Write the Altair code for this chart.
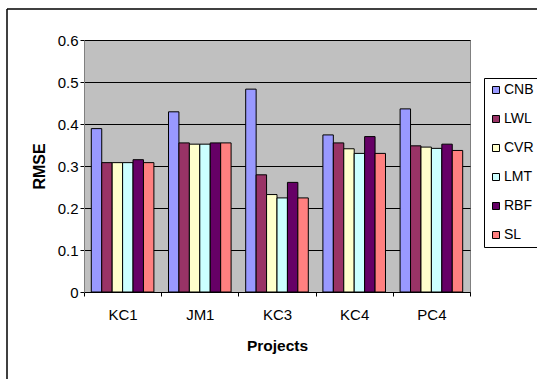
import altair as alt
import pandas as pd

# RMSE per project for each learner
projects = ["KC1", "JM1", "KC3", "KC4", "PC4"]
methods = ["CNB", "LWL", "CVR", "LMT", "RBF", "SL"]
cnb = [0.389, 0.429, 0.483, 0.374, 0.436]
lwl = [0.308, 0.355, 0.279, 0.355, 0.348]
cvr = [0.308, 0.352, 0.232, 0.341, 0.345]
lmt = [0.308, 0.352, 0.224, 0.330, 0.342]
rbf = [0.315, 0.355, 0.261, 0.370, 0.352]
sl = [0.308, 0.355, 0.224, 0.330, 0.337]
colors = ["#9999FF", "#993366", "#FFFFCC", "#CCFFFF", "#660066", "#FF8080"]
y_ticks = [0, 0.1, 0.2, 0.3, 0.4, 0.5, 0.6]

series = dict(zip(methods, [cnb, lwl, cvr, lmt, rbf, sl]))
rows = [
    {"Project": p, "Method": m, "RMSE": vals[i]}
    for m, vals in series.items()
    for i, p in enumerate(projects)
]
df = pd.DataFrame(rows)

FONT = "Liberation Sans"

bars = alt.Chart(df).mark_bar(stroke="black", strokeWidth=1).encode(
    x=alt.X(
        "Project:N",
        sort=projects,
        # full-width bands so the category ticks fall midway between groups
        scale=alt.Scale(paddingInner=0, paddingOuter=0),
        axis=alt.Axis(
            title="Projects",
            labelAngle=0,
            labelFontSize=15,
            labelPadding=11,
            tickSize=4,
            tickBand="extent",
            tickColor="black",
            domainColor="black",
            titleFontSize=15.5,
            titleFontWeight="bold",
            titlePadding=16,
            grid=False,
        ),
    ),
    # gap between groups comes from the outer padding of the offset scale
    xOffset=alt.XOffset("Method:N", sort=methods, scale=alt.Scale(paddingInner=0, paddingOuter=0.7)),
    y=alt.Y(
        "RMSE:Q",
        scale=alt.Scale(domain=[0, 0.6], nice=False),
        axis=alt.Axis(
            title="RMSE",
            values=y_ticks,
            format=".1~f",
            labelFontSize=15,
            labelPadding=2,
            tickSize=4,
            tickColor="black",
            domainColor="#808080",
            grid=True,
            gridColor="black",
            gridOpacity=1,
            gridWidth=1,
            titleFontSize=16,
            titleFontWeight="bold",
            titlePadding=10,
        ),
    ),
    color=alt.Color(
        "Method:N",
        sort=methods,
        scale=alt.Scale(domain=methods, range=colors),
        legend=alt.Legend(
            title=None,
            orient="none",
            legendX=400,
            legendY=38,
            symbolType="square",
            symbolSize=49,
            symbolStrokeColor="black",
            symbolStrokeWidth=1,
            labelFontSize=14,
            labelOffset=1,
            rowPadding=15,
            padding=5,
            strokeColor="black",
            fillColor="white",
        ),
    ),
)

# chart-area frame along the left and top edges
frame_data = alt.Data(values=[{"k": 1}])
frame_left = alt.Chart(frame_data).mark_rule(color="black", strokeWidth=1.5).encode(
    x=alt.value(-77), y=alt.value(-31), y2=alt.value(345)
)
frame_top = alt.Chart(frame_data).mark_rule(color="black", strokeWidth=1.5).encode(
    x=alt.value(-77), x2=alt.value(460), y=alt.value(-31)
)

chart = (
    alt.layer(bars, frame_left, frame_top)
    .properties(
        width=386,
        height=252,
        autosize=alt.AutoSizeParams(type="none"),
        padding={"left": 84, "top": 40, "right": 67, "bottom": 87},
        background="white",
        view=alt.ViewBackground(fill="#C0C0C0", stroke="#808080", strokeWidth=1),
    )
    .configure(font=FONT)
    .configure_axis(labelColor="black", titleColor="black", labelFont=FONT, titleFont=FONT)
    .configure_legend(labelFont=FONT, labelColor="black")
)

chart.save("out.html", embed_options={"renderer": "svg", "actions": False})
